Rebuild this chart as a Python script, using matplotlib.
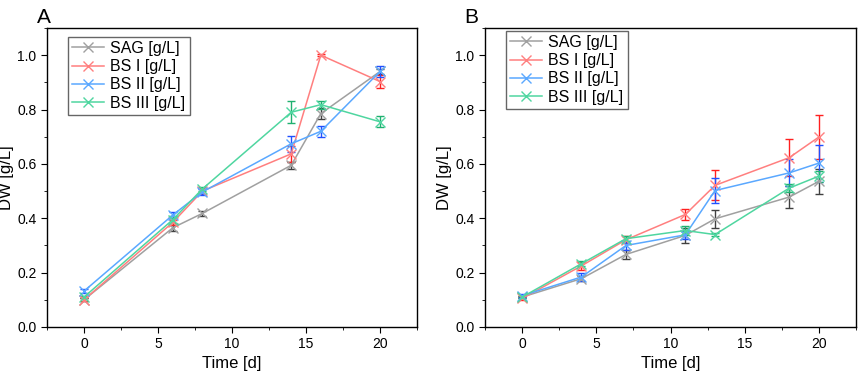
import matplotlib
matplotlib.use("Agg")
import matplotlib.pyplot as plt
from matplotlib.ticker import MultipleLocator

plt.rcParams['font.family'] = ['Liberation Sans', 'DejaVu Sans']

labels = ["SAG [g/L]", "BS I [g/L]", "BS II [g/L]", "BS III [g/L]"]
line_colors = ["#a0a0a0", "#ff7f7f", "#5aa8ff", "#4fd6a0"]
err_colors = ["#404040", "#ff2020", "#2050ff", "#20b070"]

# panel A
time_a = [0, 6, 8, 14, 16, 20]
sag_a = [0.10, 0.365, 0.418, 0.595, 0.785, 0.94]
bs1_a = [0.10, 0.385, 0.50, 0.637, 1.00, 0.903]
bs2_a = [0.132, 0.412, 0.497, 0.674, 0.72, 0.94]
bs3_a = [0.11, 0.395, 0.508, 0.79, 0.818, 0.755]
sag_a_err = [0.005, 0.01, 0.01, 0.012, 0.02, 0.01]
bs1_a_err = [0.005, 0.01, 0.01, 0.03, 0.003, 0.025]
bs2_a_err = [0.006, 0.01, 0.012, 0.03, 0.02, 0.02]
bs3_a_err = [0.005, 0.012, 0.006, 0.04, 0.015, 0.02]

# panel B
time_b = [0, 4, 7, 11, 13, 18, 20]
sag_b = [0.11, 0.178, 0.267, 0.337, 0.398, 0.478, 0.536]
bs1_b = [0.105, 0.225, 0.321, 0.414, 0.521, 0.623, 0.699]
bs2_b = [0.115, 0.184, 0.300, 0.339, 0.502, 0.567, 0.603]
bs3_b = [0.11, 0.233, 0.325, 0.355, 0.34, 0.511, 0.555]
sag_b_err = [0.005, 0.01, 0.017, 0.027, 0.032, 0.042, 0.046]
bs1_b_err = [0.005, 0.015, 0.012, 0.02, 0.055, 0.068, 0.08]
bs2_b_err = [0.005, 0.015, 0.015, 0.015, 0.045, 0.05, 0.068]
bs3_b_err = [0.005, 0.01, 0.01, 0.015, 0.005, 0.015, 0.02]

fig = plt.figure(figsize=(8.58, 3.76), dpi=100)
ax_a = fig.add_axes([47/858, 1-327/376, 370/858, 299/376])
ax_b = fig.add_axes([485/858, 1-327/376, 371/858, 299/376])

panels = [
    (ax_a, time_a, [sag_a, bs1_a, bs2_a, bs3_a], [sag_a_err, bs1_a_err, bs2_a_err, bs3_a_err],
     "A", -0.027, 0.97),
    (ax_b, time_b, [sag_b, bs1_b, bs2_b, bs3_b], [sag_b_err, bs1_b_err, bs2_b_err, bs3_b_err],
     "B", -0.057, 0.99),
]

for ax, t, series, errs, tag, tag_x, leg_top in panels:
    for y, e, lab, lc, ec in zip(series, errs, labels, line_colors, err_colors):
        ax.errorbar(t, y, yerr=e, fmt='none', ecolor=ec, elinewidth=1.0,
                    capsize=3, capthick=1.0, zorder=2)
        ax.plot(t, y, color=lc, marker='x', markersize=7, linewidth=1.1,
                label=lab, zorder=3)
    ax.set_xlim(-2.5, 22.5)
    ax.set_ylim(0, 1.1)
    ax.xaxis.set_major_locator(MultipleLocator(5))
    ax.xaxis.set_minor_locator(MultipleLocator(2.5))
    ax.yaxis.set_major_locator(MultipleLocator(0.2))
    ax.yaxis.set_minor_locator(MultipleLocator(0.1))
    ax.yaxis.set_major_formatter(plt.FuncFormatter(lambda v, p: f"{v:.1f}"))
    ax.tick_params(which='major', direction='out', length=4, labelsize=10)
    ax.tick_params(which='minor', direction='out', length=2)
    ax.set_xlabel("Time [d]", fontsize=12, labelpad=3)
    ax.set_ylabel("DW [g/L]", fontsize=12, labelpad=2)
    for s in ax.spines.values():
        s.set_linewidth(1.0)
    leg = ax.legend(loc='upper left', bbox_to_anchor=(0.057, leg_top), fontsize=11.5,
                    frameon=True, fancybox=False, edgecolor='#404040',
                    handlelength=2.0, borderpad=0.25, labelspacing=0.2,
                    handletextpad=0.4, borderaxespad=0)
    leg.get_frame().set_linewidth(1.0)
    ax.text(tag_x, 1 + 5/299, tag, transform=ax.transAxes, fontsize=15,
            ha='left', va='baseline')

fig.savefig("out.png", dpi=100)
